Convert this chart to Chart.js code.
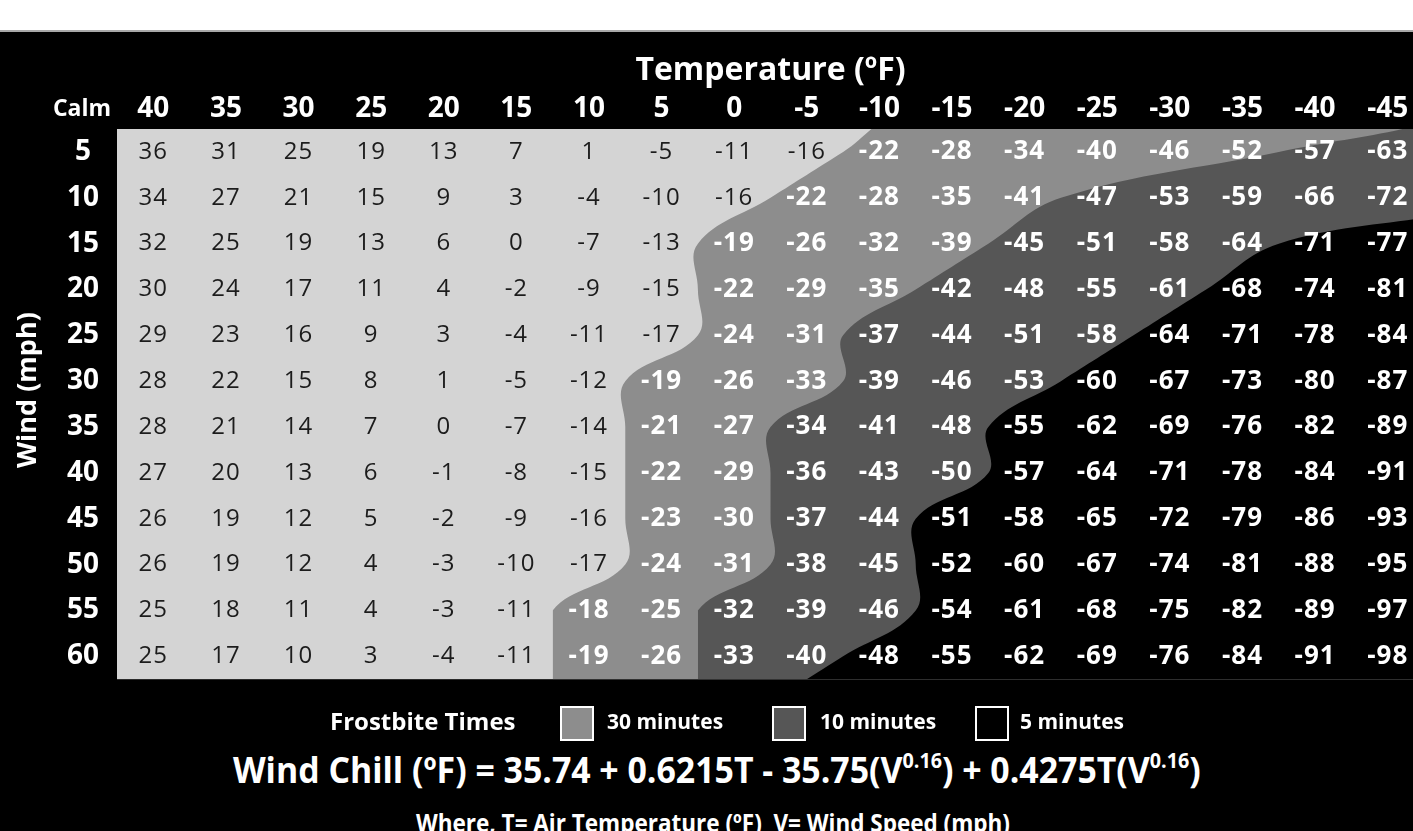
<!DOCTYPE html>
<html>
<head>
<meta charset="utf-8">
<script src="https://cdn.jsdelivr.net/npm/chart.js@4.4.0/dist/chart.umd.min.js"></script>
<style>
  html, body { margin: 0; padding: 0; }
  body {
    width: 1413px; height: 831px; overflow: hidden; position: relative;
    background: #000; color: #fff; font-family: 'Open Sans', sans-serif;
  }
  #strip { position: absolute; left: 0; top: 0; width: 1413px; height: 30px; background: #fff; border-bottom: 2px solid #a8a8a8; }
  #wrap { position: absolute; left: 0; top: 33px; width: 1440px; height: 681px; }
  .lg { position: absolute; font-weight: 700; white-space: nowrap; line-height: 1; }
  .box { position: absolute; top: 706px; width: 30px; height: 31px; border: 2px solid #fff; }
  #formula, #where { position: absolute; left: 0; width: 1413px; text-align: center; font-weight: 700; white-space: nowrap; }
  #formula span, #where span { display: inline-block; transform-origin: center; }
  #formula { top: 749px; font-size: 36px; line-height: 42px; }
  #formula span { transform: translateX(10px) scaleX(0.94); }
  #formula sup { font-size: 21px; vertical-align: 15px; line-height: 0; }
  #where { top: 807px; font-size: 25px; line-height: 30px; }
  #where span { transform: translateX(6px) scaleX(0.9); }
</style>
</head>
<body>
<div id="strip"></div>
<div id="wrap"><canvas id="windChart"></canvas></div>

<div class="lg" style="left:330px; top:709px; font-size:24px;">Frostbite Times</div>
<div class="box" id="box30" style="left:560px;"></div>
<div class="lg" style="left:607px; top:711px; font-size:21px;">30 minutes</div>
<div class="box" id="box10" style="left:772px;"></div>
<div class="lg" style="left:820px; top:711px; font-size:21px;">10 minutes</div>
<div class="box" id="box5" style="left:975px;"></div>
<div class="lg" style="left:1020px; top:711px; font-size:21px;">5 minutes</div>

<div id="formula"><span>Wind Chill (ºF) = 35.74 + 0.6215T - 35.75(V<sup>0.16</sup>) + 0.4275T(V<sup>0.16</sup>)</span></div>
<div id="where"><span>Where, T= Air Temperature (ºF)&nbsp;&nbsp;V= Wind Speed (mph)</span></div>

<script>
document.addEventListener('DOMContentLoaded', function () {

    // column / row headers
    const tempLabels = ['40', '35', '30', '25', '20', '15', '10', '5', '0', '-5', '-10', '-15', '-20', '-25', '-30', '-35', '-40', '-45'];
    const windLabels = ['5', '10', '15', '20', '25', '30', '35', '40', '45', '50', '55', '60'];

    // wind chill values, one row per wind speed
    const wc5  = [36, 31, 25, 19, 13, 7, 1, -5, -11, -16, -22, -28, -34, -40, -46, -52, -57, -63];
    const wc10 = [34, 27, 21, 15, 9, 3, -4, -10, -16, -22, -28, -35, -41, -47, -53, -59, -66, -72];
    const wc15 = [32, 25, 19, 13, 6, 0, -7, -13, -19, -26, -32, -39, -45, -51, -58, -64, -71, -77];
    const wc20 = [30, 24, 17, 11, 4, -2, -9, -15, -22, -29, -35, -42, -48, -55, -61, -68, -74, -81];
    const wc25 = [29, 23, 16, 9, 3, -4, -11, -17, -24, -31, -37, -44, -51, -58, -64, -71, -78, -84];
    const wc30 = [28, 22, 15, 8, 1, -5, -12, -19, -26, -33, -39, -46, -53, -60, -67, -73, -80, -87];
    const wc35 = [28, 21, 14, 7, 0, -7, -14, -21, -27, -34, -41, -48, -55, -62, -69, -76, -82, -89];
    const wc40 = [27, 20, 13, 6, -1, -8, -15, -22, -29, -36, -43, -50, -57, -64, -71, -78, -84, -91];
    const wc45 = [26, 19, 12, 5, -2, -9, -16, -23, -30, -37, -44, -51, -58, -65, -72, -79, -86, -93];
    const wc50 = [26, 19, 12, 4, -3, -10, -17, -24, -31, -38, -45, -52, -60, -67, -74, -81, -88, -95];
    const wc55 = [25, 18, 11, 4, -3, -11, -18, -25, -32, -39, -46, -54, -61, -68, -75, -82, -89, -97];
    const wc60 = [25, 17, 10, 3, -4, -11, -19, -26, -33, -40, -48, -55, -62, -69, -76, -84, -91, -98];
    const windChill = [wc5, wc10, wc15, wc20, wc25, wc30, wc35, wc40, wc45, wc50, wc55, wc60];

    // first column (index into tempLabels) of each frostbite zone, per wind row
    // 18 = zone not reached in that row
    const zone30Start = [10, 9, 8, 8, 8, 7, 7, 7, 7, 7, 6, 6];
    const zone10Start = [16, 13, 12, 11, 10, 10, 9, 9, 9, 9, 8, 8];
    const zone5Start  = [18, 18, 16, 15, 14, 13, 12, 12, 11, 11, 11, 10];

    const colors = { safe: '#d4d4d4', min30: '#8d8d8d', min10: '#565656', min5: '#000000' };
    document.getElementById('box30').style.background = colors.min30;
    document.getElementById('box10').style.background = colors.min10;
    document.getElementById('box5').style.background = colors.min5;

    const nCols = tempLabels.length;
    const xMin = -0.5, xMax = nCols - 0.5;
    const yMin = -0.5, yMax = windLabels.length - 0.5;

    // boundary line of a zone: cell edges per row, extended past the plot edges
    function zoneEdge(starts) {
        const pts = starts.map((s, r) => ({ x: s >= nCols ? s + 0.5 : s - 0.5, y: r }));
        const n = pts.length;
        const top = { x: pts[0].x + (pts[0].x - pts[1].x) * 0.8, y: yMin - 0.3 };
        const bottom = { x: pts[n - 1].x + (pts[n - 1].x - pts[n - 2].x) * 0.8, y: yMax + 0.3 };
        return [{ x: xMax + 3, y: yMin - 2 }, top].concat(pts, [bottom]);
    }

    function zoneDataset(label, starts, color) {
        return {
            label: label,
            data: zoneEdge(starts),
            showLine: true,
            tension: 0.4,
            borderWidth: 0,
            pointRadius: 0,
            backgroundColor: color,
            fill: { value: yMax + 1 }
        };
    }

    const plotBackground = {
        id: 'plotBackground',
        beforeDatasetsDraw(chart) {
            const { ctx, chartArea: a } = chart;
            ctx.save();
            ctx.fillStyle = colors.safe;
            ctx.fillRect(a.left, a.top, a.right - a.left, a.bottom - a.top);
            ctx.restore();
        }
    };

    const cellLabels = {
        id: 'cellLabels',
        afterDatasetsDraw(chart) {
            const { ctx, scales: { x, y } } = chart;
            ctx.save();
            ctx.textAlign = 'center';
            ctx.textBaseline = 'middle';
            windChill.forEach((row, r) => {
                row.forEach((v, c) => {
                    const cold = c >= zone30Start[r];
                    ctx.font = cold ? "bold 26px 'Open Sans'" : "24px 'Open Sans'";
                    ctx.letterSpacing = '1px';
                    ctx.fillStyle = cold ? '#ffffff' : '#1c1c1c';
                    ctx.fillText(String(v), x.getPixelForValue(c), y.getPixelForValue(r));
                });
            });
            // "Calm" heads the wind column
            ctx.letterSpacing = '0px';
            ctx.font = "bold 23px 'Open Sans'";
            ctx.fillStyle = '#ffffff';
            ctx.fillText('Calm', 82, x.bottom - 20);
            ctx.restore();
        }
    };

    const config = {
        type: 'scatter',
        data: {
            datasets: [
                zoneDataset('5 minutes', zone5Start, colors.min5),
                zoneDataset('10 minutes', zone10Start, colors.min10),
                zoneDataset('30 minutes', zone30Start, colors.min30)
            ]
        },
        options: {
            responsive: true,
            maintainAspectRatio: false,
            animation: false,
            events: [],
            layout: { padding: { top: 0, right: 16, bottom: 4, left: 0 } },
            plugins: {
                legend: { display: false },
                tooltip: { enabled: false }
            },
            scales: {
                x: {
                    type: 'linear',
                    position: 'top',
                    min: xMin,
                    max: xMax,
                    grid: { display: false, drawTicks: false },
                    border: { display: false },
                    afterBuildTicks: s => { s.ticks = tempLabels.map((_, i) => ({ value: i })); },
                    afterFit: s => { s.height = 96; },
                    ticks: {
                        color: '#fff',
                        padding: 3,
                        font: { family: 'Open Sans', size: 28, weight: 'bold' },
                        callback: v => tempLabels[v]
                    },
                    title: {
                        display: true,
                        text: 'Temperature (ºF)',
                        color: '#fff',
                        padding: { top: 19, bottom: 0 },
                        font: { family: 'Open Sans', size: 32, weight: 'bold' }
                    }
                },
                y: {
                    type: 'linear',
                    reverse: true,
                    min: yMin,
                    max: yMax,
                    grid: { display: false, drawTicks: false },
                    border: { display: false },
                    afterBuildTicks: s => { s.ticks = windLabels.map((_, i) => ({ value: i })); },
                    afterFit: s => { s.width = 117; },
                    ticks: {
                        color: '#fff',
                        padding: 18,
                        crossAlign: 'center',
                        font: { family: 'Open Sans', size: 28, weight: 'bold' },
                        callback: v => windLabels[v]
                    },
                    title: {
                        display: true,
                        text: '    Wind (mph)',
                        color: '#fff',
                        padding: { top: 12, bottom: 0 },
                        font: { family: 'Open Sans', size: 27, weight: 'bold' }
                    }
                }
            }
        },
        plugins: [plotBackground, cellLabels]
    };

    const chartCtx = document.getElementById('windChart');
    if (chartCtx) new Chart(chartCtx, config);

});
</script>
</body>
</html>
